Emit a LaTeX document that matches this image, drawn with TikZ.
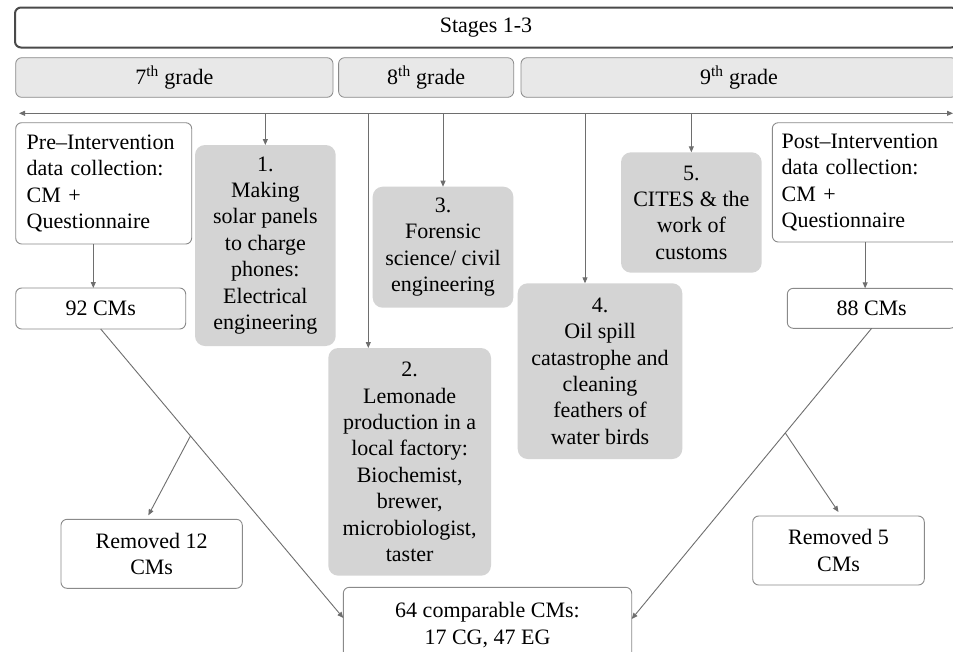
\documentclass[tikz,border=0pt]{standalone}
\usepackage{fontspec}
\setmainfont{Liberation Serif}
\usetikzlibrary{arrows.meta,calc}
\definecolor{boxgray}{HTML}{D4D4D4}
\definecolor{gradefill}{HTML}{E8E8E8}
\definecolor{linegray}{HTML}{6E6E6E}
\definecolor{edgegray}{HTML}{8A8A8A}
\definecolor{darkedge}{HTML}{4A4A4A}
\begin{document}
\begin{tikzpicture}[x=1pt,y=-1pt,
  every node/.style={font=\fontsize{22}{26.4}\selectfont, inner sep=0pt, outer sep=0pt, text=black},
  wbox/.style={draw=edgegray, line width=0.9pt, rounded corners=6pt, fill=white},
  gbox/.style={fill=boxgray, rounded corners=10pt, align=center},
  grade/.style={draw=edgegray, line width=0.8pt, fill=gradefill, rounded corners=6pt},
  arr/.style={draw=linegray, line width=0.9pt, -{Triangle[length=6pt,width=5pt]}},
  tline/.style={draw=linegray, line width=0.9pt, {Triangle[length=6pt,width=5pt]}-{Triangle[length=6pt,width=5pt]}}]
\clip (0,0) rectangle (953,651);
\fill[white] (0,0) rectangle (953,651);

% header
\node[draw=darkedge, line width=2pt, rounded corners=6pt, fill=white, minimum width=942pt, minimum height=40pt] (stages) at (486,27.5) {Stages 1-3};
\node[grade, minimum width=317.3pt, minimum height=39.6pt] (g7) at (174.35,77.5) {7\textsuperscript{th} grade};
\node[grade, minimum width=175.1pt, minimum height=39.6pt] (g8) at (426.15,77.5) {8\textsuperscript{th} grade};
\node[grade, minimum width=436pt, minimum height=39.6pt] (g9) at (739,77.5) {9\textsuperscript{th} grade};

% timeline
\coordinate (tlL) at (19,113.3);
\coordinate (tlR) at (953,113.3);
\draw[tline] (tlL) -- (tlR);

% left column
\node[wbox, minimum width=176pt, minimum height=121.3pt, text width=154pt, align=left] (pre) at (103.7,183.35)
  {Pre–Intervention\\data collection:\\CM +\\Questionnaire};
\node[wbox, minimum width=170pt, minimum height=41pt] (n92) at (100.7,308.5) {92 CMs};
\node[wbox, minimum width=181.3pt, minimum height=69pt, align=center] (rem12) at (151.65,553.8) {Removed 12\\CMs};

% right column
\node[wbox, minimum width=185.7pt, minimum height=119.3pt, text width=166.9pt, align=left] (post) at (865.15,182.35)
  {Post–Intervention\\data collection:\\CM +\\Questionnaire};
\node[wbox, minimum width=168.7pt, minimum height=40pt] (n88) at (871.65,308.3) {88 CMs};
\node[wbox, minimum width=171.6pt, minimum height=69pt, align=center] (rem5) at (838.5,550.5) {Removed 5\\CMs};

% bottom
\node[wbox, minimum width=288.4pt, minimum height=75.1pt, align=center] (m64) at (487.5,624.85) {64 comparable CMs:\\17 CG, 47 EG};

% activities
\node[gbox, minimum width=140.7pt, minimum height=201pt] (box1) at (265.35,245.5)
  {1.\\Making\\solar panels\\to charge\\phones:\\Electrical\\engineering};
\node[gbox, minimum width=162.7pt, minimum height=227.7pt] (box2) at (409.65,461.85)
  {2.\\Lemonade\\production in a\\local factory:\\Biochemist,\\brewer,\\microbiologist,\\taster};
\node[gbox, minimum width=140.6pt, minimum height=121pt] (box3) at (443,247.2)
  {3.\\Forensic\\science/ civil\\engineering};
\node[gbox, minimum width=164.6pt, minimum height=175.7pt] (box4) at (600,371.15)
  {4.\\Oil spill\\catastrophe and\\cleaning\\feathers of\\water birds};
\node[gbox, minimum width=140.7pt, minimum height=120.4pt] (box5) at (691.35,212.5)
  {5.\\CITES \& the\\work of\\customs};

% timeline drops
\draw[arr] (box1.north |- tlL) -- (box1.north);
\draw[arr] ([xshift=-41.35pt]box2.north |- tlL) -- ([xshift=-41.35pt]box2.north);
\draw[arr] (box3.north |- tlL) -- (box3.north);
\draw[arr] ([xshift=-15pt]box4.north |- tlL) -- ([xshift=-15pt]box4.north);
\draw[arr] (box5.north |- tlL) -- (box5.north);

% column arrows
\draw[arr] ([xshift=-10.4pt]pre.south) -- ([xshift=-10.4pt]pre.south |- n92.north);
\draw[arr] (post.south) -- (post.south |- n88.north);

% diagonals
\draw[arr] (n92.south) -- ([yshift=-30.7pt]m64.north west);
\coordinate (br1) at ($(n92.south)!0.37!([yshift=-30.7pt]m64.north west)$);
\draw[arr] (br1) -- ([xshift=-3.3pt,yshift=4pt]rem12.north);
\draw[arr] (n88.south) -- ([yshift=-31.7pt]m64.north east);
\coordinate (br2) at ($(n88.south)!0.36!([yshift=-31.7pt]m64.north east)$);
\draw[arr] (br2) -- ([yshift=4pt]rem5.north);
\end{tikzpicture}
\end{document}
